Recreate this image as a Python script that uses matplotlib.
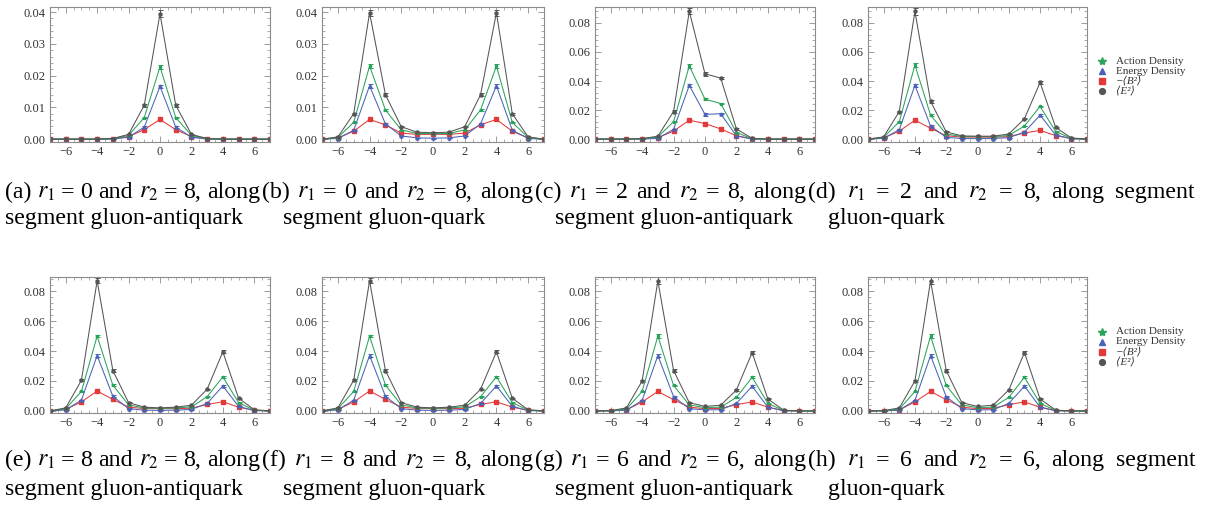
import numpy as np
import matplotlib
matplotlib.use("Agg")
import matplotlib.pyplot as plt
from matplotlib.ticker import MultipleLocator, AutoMinorLocator, FormatStrFormatter
from matplotlib.lines import Line2D

plt.rcParams["font.family"] = ["Liberation Serif", "DejaVu Serif", "DejaVu Sans"]
plt.rcParams["mathtext.fontset"] = "stix"

x = np.arange(-7, 8)

# (a) r1=0, r2=8, gluon-antiquark
e2_a  = [0, 0, 0, 0, 0.0002, 0.0015, 0.0107, 0.0395, 0.0107, 0.0015, 0.0002, 0, 0, 0, 0]
act_a = [0, 0, 0, 0, 0.0001, 0.0012, 0.0068, 0.0228, 0.0068, 0.0012, 0.0001, 0, 0, 0, 0]
en_a  = [0, 0, 0, 0, 0.0000, 0.0006, 0.0038, 0.0166, 0.0038, 0.0006, 0.0000, 0, 0, 0, 0]
b2_a  = [0, 0, 0, 0, 0.0002, 0.0008, 0.0030, 0.0062, 0.0030, 0.0008, 0.0002, 0, 0, 0, 0]
e2err_a  = [0, 0, 0, 0, 0.0001, 0.0002, 0.0005, 0.0010, 0.0005, 0.0002, 0.0001, 0, 0, 0, 0]
acterr_a = [0, 0, 0, 0, 0.0001, 0.0001, 0.0003, 0.0006, 0.0003, 0.0001, 0.0001, 0, 0, 0, 0]

# (b) r1=0, r2=8, gluon-quark
e2_b  = [0, 0.0007, 0.0080, 0.0398, 0.0140, 0.0039, 0.0022, 0.0020, 0.0022, 0.0039, 0.0140, 0.0398, 0.0080, 0.0007, 0]
act_b = [0, 0.0005, 0.0053, 0.0230, 0.0092, 0.0029, 0.0018, 0.0017, 0.0018, 0.0029, 0.0092, 0.0230, 0.0053, 0.0005, 0]
en_b  = [0, 0.0002, 0.0028, 0.0168, 0.0048, 0.0010, 0.0004, 0.0003, 0.0004, 0.0010, 0.0048, 0.0168, 0.0028, 0.0002, 0]
b2_b  = [0, 0.0004, 0.0025, 0.0062, 0.0045, 0.0019, 0.0015, 0.0015, 0.0015, 0.0019, 0.0045, 0.0062, 0.0025, 0.0004, 0]
e2err_b  = [0, 0.0001, 0.0003, 0.0010, 0.0004, 0.0002, 0.0002, 0.0002, 0.0002, 0.0002, 0.0004, 0.0010, 0.0003, 0.0001, 0]
acterr_b = [0, 0.0001, 0.0002, 0.0006, 0.0003, 0.0001, 0.0001, 0.0001, 0.0001, 0.0001, 0.0003, 0.0006, 0.0002, 0.0001, 0]

# (c) r1=2, r2=8, gluon-antiquark
e2_c  = [0, 0, 0, 0.0003, 0.0020, 0.0190, 0.0880, 0.0450, 0.0420, 0.0070, 0.0005, 0, 0, 0, 0]
act_c = [0, 0, 0, 0.0002, 0.0015, 0.0120, 0.0505, 0.0275, 0.0245, 0.0045, 0.0003, 0, 0, 0, 0]
en_c  = [0, 0, 0, 0.0000, 0.0005, 0.0068, 0.0370, 0.0170, 0.0175, 0.0022, 0.0000, 0, 0, 0, 0]
b2_c  = [0, 0, 0, 0.0003, 0.0010, 0.0055, 0.0130, 0.0107, 0.0070, 0.0023, 0.0002, 0, 0, 0, 0]
e2err_c  = [0, 0, 0, 0.0001, 0.0003, 0.0008, 0.0020, 0.0015, 0.0008, 0.0004, 0.0001, 0, 0, 0, 0]
acterr_c = [0, 0, 0, 0.0001, 0.0002, 0.0005, 0.0012, 0.0008, 0.0005, 0.0002, 0.0001, 0, 0, 0, 0]

# (d) r1=2, r2=8, gluon-quark
e2_d  = [0, 0.0015, 0.0190, 0.0880, 0.0260, 0.0050, 0.0022, 0.0020, 0.0020, 0.0035, 0.0140, 0.0390, 0.0080, 0.0008, 0]
act_d = [0, 0.0012, 0.0120, 0.0510, 0.0165, 0.0035, 0.0018, 0.0017, 0.0017, 0.0025, 0.0090, 0.0225, 0.0052, 0.0005, 0]
en_d  = [0, 0.0005, 0.0065, 0.0370, 0.0090, 0.0012, 0.0004, 0.0003, 0.0004, 0.0010, 0.0048, 0.0165, 0.0028, 0.0002, 0]
b2_d  = [0, 0.0008, 0.0055, 0.0130, 0.0075, 0.0023, 0.0014, 0.0014, 0.0013, 0.0017, 0.0042, 0.0060, 0.0024, 0.0004, 0]
e2err_d  = [0, 0.0002, 0.0006, 0.0022, 0.0008, 0.0003, 0.0002, 0.0002, 0.0002, 0.0002, 0.0004, 0.0010, 0.0003, 0.0001, 0]
acterr_d = [0, 0.0001, 0.0004, 0.0013, 0.0005, 0.0002, 0.0001, 0.0001, 0.0001, 0.0001, 0.0003, 0.0006, 0.0002, 0.0001, 0]

# (e) r1=8, r2=8, gluon-antiquark
e2_e  = [0, 0.0020, 0.0205, 0.0870, 0.0270, 0.0055, 0.0025, 0.0020, 0.0025, 0.0038, 0.0145, 0.0395, 0.0085, 0.0008, 0]
act_e = [0, 0.0015, 0.0130, 0.0500, 0.0172, 0.0040, 0.0020, 0.0017, 0.0020, 0.0027, 0.0095, 0.0228, 0.0055, 0.0005, 0]
en_e  = [0, 0.0007, 0.0072, 0.0370, 0.0098, 0.0015, 0.0005, 0.0003, 0.0005, 0.0010, 0.0050, 0.0167, 0.0030, 0.0002, 0]
b2_e  = [0, 0.0010, 0.0060, 0.0133, 0.0077, 0.0025, 0.0016, 0.0015, 0.0015, 0.0018, 0.0043, 0.0061, 0.0025, 0.0004, 0]
e2err_e  = [0, 0.0002, 0.0006, 0.0015, 0.0008, 0.0003, 0.0002, 0.0002, 0.0002, 0.0002, 0.0004, 0.0010, 0.0003, 0.0001, 0]
acterr_e = [0, 0.0001, 0.0004, 0.0009, 0.0005, 0.0002, 0.0001, 0.0001, 0.0001, 0.0001, 0.0003, 0.0006, 0.0002, 0.0001, 0]

# (f) r1=8, r2=8, gluon-quark
e2_f  = [0, 0.0020, 0.0205, 0.0870, 0.0270, 0.0055, 0.0025, 0.0020, 0.0025, 0.0038, 0.0145, 0.0395, 0.0085, 0.0008, 0]
act_f = [0, 0.0015, 0.0130, 0.0500, 0.0172, 0.0040, 0.0020, 0.0017, 0.0020, 0.0027, 0.0095, 0.0228, 0.0055, 0.0005, 0]
en_f  = [0, 0.0007, 0.0072, 0.0370, 0.0098, 0.0015, 0.0005, 0.0003, 0.0005, 0.0010, 0.0050, 0.0167, 0.0030, 0.0002, 0]
b2_f  = [0, 0.0010, 0.0060, 0.0133, 0.0077, 0.0025, 0.0016, 0.0015, 0.0015, 0.0018, 0.0043, 0.0061, 0.0025, 0.0004, 0]
e2err_f  = [0, 0.0002, 0.0006, 0.0015, 0.0008, 0.0003, 0.0002, 0.0002, 0.0002, 0.0002, 0.0004, 0.0010, 0.0003, 0.0001, 0]
acterr_f = [0, 0.0001, 0.0004, 0.0009, 0.0005, 0.0002, 0.0001, 0.0001, 0.0001, 0.0001, 0.0003, 0.0006, 0.0002, 0.0001, 0]

# (g) r1=6, r2=6, gluon-antiquark
e2_g  = [0, 0.0002, 0.0020, 0.0200, 0.0870, 0.0270, 0.0055, 0.0030, 0.0038, 0.0140, 0.0390, 0.0080, 0.0005, 0, 0]
act_g = [0, 0.0001, 0.0012, 0.0130, 0.0500, 0.0170, 0.0040, 0.0022, 0.0025, 0.0090, 0.0225, 0.0050, 0.0003, 0, 0]
en_g  = [0, 0.0000, 0.0005, 0.0070, 0.0370, 0.0095, 0.0015, 0.0007, 0.0008, 0.0050, 0.0165, 0.0025, 0.0001, 0, 0]
b2_g  = [0, 0.0001, 0.0007, 0.0060, 0.0130, 0.0075, 0.0025, 0.0015, 0.0017, 0.0042, 0.0060, 0.0025, 0.0002, 0, 0]
e2err_g  = [0, 0.0001, 0.0002, 0.0006, 0.0022, 0.0008, 0.0003, 0.0002, 0.0002, 0.0004, 0.0010, 0.0003, 0.0001, 0, 0]
acterr_g = [0, 0.0001, 0.0001, 0.0004, 0.0013, 0.0005, 0.0002, 0.0001, 0.0001, 0.0003, 0.0006, 0.0002, 0.0001, 0, 0]

# (h) r1=6, r2=6, gluon-quark
e2_h  = [0, 0.0002, 0.0020, 0.0200, 0.0870, 0.0270, 0.0055, 0.0030, 0.0038, 0.0140, 0.0390, 0.0080, 0.0005, 0, 0]
act_h = [0, 0.0001, 0.0012, 0.0130, 0.0500, 0.0170, 0.0040, 0.0022, 0.0025, 0.0090, 0.0225, 0.0050, 0.0003, 0, 0]
en_h  = [0, 0.0000, 0.0005, 0.0070, 0.0370, 0.0095, 0.0015, 0.0007, 0.0008, 0.0050, 0.0165, 0.0025, 0.0001, 0, 0]
b2_h  = [0, 0.0001, 0.0007, 0.0060, 0.0130, 0.0075, 0.0025, 0.0015, 0.0017, 0.0042, 0.0060, 0.0025, 0.0002, 0, 0]
e2err_h  = [0, 0.0001, 0.0002, 0.0006, 0.0022, 0.0008, 0.0003, 0.0002, 0.0002, 0.0004, 0.0010, 0.0003, 0.0001, 0, 0]
acterr_h = [0, 0.0001, 0.0001, 0.0004, 0.0013, 0.0005, 0.0002, 0.0001, 0.0001, 0.0003, 0.0006, 0.0002, 0.0001, 0, 0]

# Caption first lines as word tokens (typeset justified), second lines as plain strings
caption_tokens = [
    ["(a)", "$r_1$", "=", "0", "and", "$r_2$", "=", "8,", "along"],
    ["(b)", "$r_1$", "=", "0", "and", "$r_2$", "=", "8,", "along"],
    ["(c)", "$r_1$", "=", "2", "and", "$r_2$", "=", "8,", "along"],
    ["(d)", "$r_1$", "=", "2", "and", "$r_2$", "=", "8,", "along", "segment"],
    ["(e)", "$r_1$", "=", "8", "and", "$r_2$", "=", "8,", "along"],
    ["(f)", "$r_1$", "=", "8", "and", "$r_2$", "=", "8,", "along"],
    ["(g)", "$r_1$", "=", "6", "and", "$r_2$", "=", "6,", "along"],
    ["(h)", "$r_1$", "=", "6", "and", "$r_2$", "=", "6,", "along", "segment"],
]
caption_second = ["segment gluon-antiquark", "segment gluon-quark",
                  "segment gluon-antiquark", "gluon-quark",
                  "segment gluon-antiquark", "segment gluon-quark",
                  "segment gluon-antiquark", "gluon-quark"]

legend_labels = ["Action Density", "Energy Density", "−⟨B²⟩", "⟨E²⟩"]
legend_styles = ["normal", "normal", "italic", "italic"]

panels = [
    (e2_a, act_a, en_a, b2_a, e2err_a, acterr_a, (-0.0009, 0.0416), 0.01),
    (e2_b, act_b, en_b, b2_b, e2err_b, acterr_b, (-0.0009, 0.0416), 0.01),
    (e2_c, act_c, en_c, b2_c, e2err_c, acterr_c, (-0.0020, 0.0910), 0.02),
    (e2_d, act_d, en_d, b2_d, e2err_d, acterr_d, (-0.0020, 0.0910), 0.02),
    (e2_e, act_e, en_e, b2_e, e2err_e, acterr_e, (-0.0014, 0.0895), 0.02),
    (e2_f, act_f, en_f, b2_f, e2err_f, acterr_f, (-0.0014, 0.0895), 0.02),
    (e2_g, act_g, en_g, b2_g, e2err_g, acterr_g, (-0.0014, 0.0895), 0.02),
    (e2_h, act_h, en_h, b2_h, e2err_h, acterr_h, (-0.0014, 0.0895), 0.02),
]

C_ACT = "#2aa35a"
C_EN = "#4a63b8"
C_B2 = "#e23a3a"
C_E2 = "#555555"
FRAME = "#8c8c8c"
CAP_FS = 17.2

W, H = 1210, 512
fig = plt.figure(figsize=(W / 100, H / 100), dpi=100)
renderer = fig.canvas.get_renderer()

col_px = [(50, 270), (322, 544), (595, 815), (868, 1087)]
row_px = [(7, 142), (277, 413)]
line1_span_px = [(5, 260), (262, 533), (535, 806), (808, 1195)]
line2_x_px = [5, 283, 555, 828]
baseline_px = [(198, 224), (466, 495)]


def justified_line(tokens, x_left, x_right, y_base):
    """Place word tokens so that the line fills [x_left, x_right] exactly."""
    texts = [fig.text(0, 1 - y_base / H, t, fontsize=CAP_FS, ha="left",
                      va="baseline", color="black") for t in tokens]
    widths = [t.get_window_extent(renderer).width for t in texts]
    gap = (x_right - x_left - sum(widths)) / (len(tokens) - 1)
    pos = x_left
    for t, w in zip(texts, widths):
        t.set_x(pos / W)
        pos += w + gap


for i, (e2, act, en, b2, e2err, acterr, ylim, ystep) in enumerate(panels):
    r, c = divmod(i, 4)
    x0, x1 = col_px[c]
    y0, y1 = row_px[r]
    ax = fig.add_axes([x0 / W, 1 - y1 / H, (x1 - x0) / W, (y1 - y0) / H])

    kw = dict(lw=0.75, elinewidth=0.7, capsize=1.8, capthick=0.7, ms=2.2)
    ax.plot(x, b2, color=C_B2, marker="s", lw=0.75, ms=2.2)
    ax.errorbar(x, en, yerr=acterr, color=C_EN, marker="^", **kw)
    ax.errorbar(x, act, yerr=acterr, color=C_ACT, marker="*", **kw)
    ax.errorbar(x, e2, yerr=e2err, color=C_E2, marker="o", **kw)

    ax.set_xlim(-7, 7)
    ax.set_ylim(*ylim)
    ax.xaxis.set_major_locator(MultipleLocator(2))
    ax.xaxis.set_minor_locator(AutoMinorLocator(4))
    ax.yaxis.set_major_locator(MultipleLocator(ystep))
    ax.yaxis.set_minor_locator(AutoMinorLocator(5))
    ax.yaxis.set_major_formatter(FormatStrFormatter("%.2f"))
    ax.tick_params(which="both", direction="in", top=True, right=True,
                   color=FRAME, labelsize=9, labelcolor="#333333", pad=3)
    ax.tick_params(which="major", length=4, width=0.6)
    ax.tick_params(which="minor", length=2, width=0.5)
    for s in ax.spines.values():
        s.set_color(FRAME)
        s.set_linewidth(0.8)

    xl, xr = line1_span_px[c]
    justified_line(caption_tokens[i], xl, xr, baseline_px[r][0])
    fig.text(line2_x_px[c] / W, 1 - baseline_px[r][1] / H, caption_second[i],
             fontsize=CAP_FS, ha="left", va="baseline", color="black")

# Legend entries drawn as individual marker + text pairs
leg_markers = [("*", C_ACT, 6), ("^", C_EN, 4.5), ("s", C_B2, 4), ("o", C_E2, 4.2)]
for y_rows in ((61, 71, 81, 91), (332, 342, 352, 362)):
    for (mk, col, ms), label, style, yr in zip(leg_markers, legend_labels,
                                               legend_styles, y_rows):
        fig.add_artist(Line2D([1102 / W], [1 - yr / H], marker=mk, color=col,
                              ms=ms, ls="none", transform=fig.transFigure))
        fig.text(1116 / W, 1 - yr / H, label, fontsize=8, ha="left",
                 va="center", color="#333333", fontstyle=style)

fig.savefig("out.png", dpi=100)
